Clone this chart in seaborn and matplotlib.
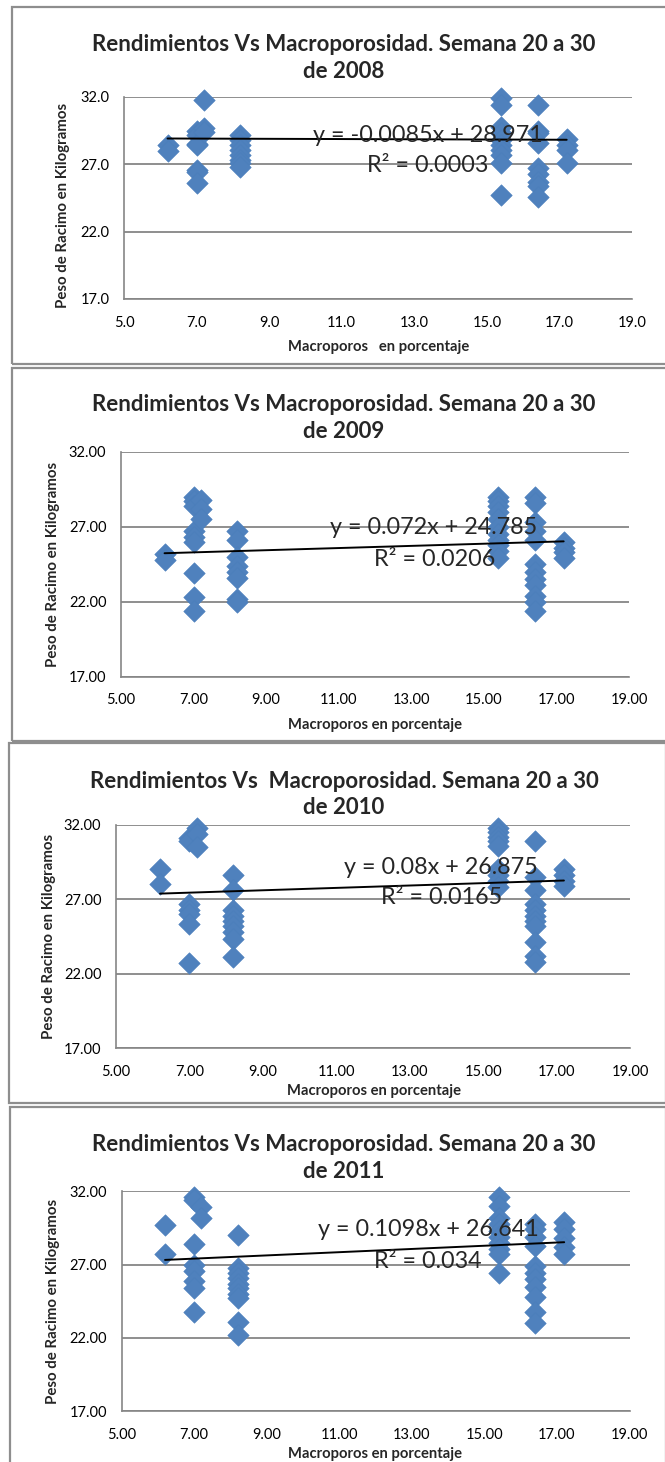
import matplotlib
matplotlib.use("Agg")
import matplotlib.pyplot as plt
from matplotlib.patches import Rectangle
from matplotlib.ticker import FormatStrFormatter, FixedLocator
import numpy as np
import pandas as pd
import seaborn as sns

# ---- data -------------------------------------------------------------
years = [2008, 2009, 2010, 2011]
macro_levels = [6.2, 7.0, 7.2, 8.2, 15.4, 16.4, 17.2]

peso_2008 = [
    [28.4, 28.0],
    [29.5, 29.2, 28.5, 28.4, 26.6, 26.4, 25.6],
    [31.8, 29.7, 29.4],
    [29.2, 28.8, 28.4, 28.1, 27.7, 27.3, 27.1, 26.8],
    [31.9, 31.4, 29.8, 29.3, 28.8, 28.4, 28.1, 27.7, 27.1, 24.7],
    [31.4, 29.5, 29.3, 28.6, 26.7, 26.3, 25.7, 25.4, 24.6],
    [28.9, 28.4, 28.1, 27.1],
]
peso_2009 = [
    [25.2, 24.8],
    [29.0, 28.7, 28.4, 26.7, 26.3, 26.0, 23.9, 22.3, 21.4],
    [28.8, 28.2, 27.5],
    [26.7, 26.1, 25.0, 24.4, 24.0, 23.6, 22.2, 22.0],
    [29.0, 28.7, 28.4, 28.0, 27.5, 27.0, 26.5, 26.1, 25.8, 25.4, 24.9],
    [29.0, 28.6, 27.3, 26.7, 26.1, 24.5, 24.0, 23.5, 23.1, 22.4, 22.0, 21.4],
    [26.0, 25.6, 25.3, 24.9],
]
peso_2010 = [
    [29.0, 28.0],
    [31.1, 30.9, 26.7, 26.3, 26.0, 25.3, 22.7],
    [31.8, 31.4, 30.5],
    [28.6, 27.6, 26.3, 25.9, 25.5, 25.2, 24.8, 24.3, 23.1],
    [31.8, 31.5, 31.2, 30.9, 30.6, 29.0, 28.6, 28.2, 27.8],
    [30.9, 28.5, 27.6, 26.7, 26.3, 25.9, 25.5, 25.2, 24.1, 23.2, 22.8],
    [29.0, 28.6, 28.2, 27.9],
]
peso_2011 = [
    [29.7, 27.7],
    [31.6, 31.4, 28.4, 27.0, 26.6, 25.9, 25.4, 23.8],
    [30.9, 30.2],
    [29.0, 26.8, 26.4, 26.1, 25.7, 25.4, 25.0, 24.7, 23.1, 22.2],
    [31.6, 31.0, 30.2, 29.8, 29.3, 28.9, 28.5, 28.1, 27.7, 26.4],
    [29.8, 29.4, 28.9, 28.3, 26.9, 26.4, 26.0, 25.5, 24.8, 23.8, 23.0],
    [29.9, 29.4, 28.8, 28.2, 27.7],
]
peso_by_year = [peso_2008, peso_2009, peso_2010, peso_2011]

trend_slope = [-0.0085, 0.072, 0.08, 0.1098]
trend_intercept = [28.971, 24.785, 26.875, 26.641]
trend_r2 = [0.0003, 0.0206, 0.0165, 0.034]

x_ticks = [5, 7, 9, 11, 13, 15, 17, 19]
y_ticks = [17, 22, 27, 32]

titles = [
    "Rendimientos Vs Macroporosidad. Semana 20 a 30\nde 2008",
    "Rendimientos Vs Macroporosidad. Semana 20 a 30\nde 2009",
    "Rendimientos Vs  Macroporosidad. Semana 20 a 30\nde 2010",
    "Rendimientos Vs Macroporosidad. Semana 20 a 30\nde 2011",
]
xlabels = ["Macroporos   en porcentaje", "Macroporos en porcentaje",
           "Macroporos en porcentaje", "Macroporos en porcentaje"]
ylabel = "Peso de Racimo en Kilogramos"
tick_formats = ["%.1f", "%.2f", "%.2f", "%.2f"]

# ---- layout (pixels) --------------------------------------------------
W, H = 665, 1462
# axes boxes: left, right, top, bottom
axes_px = [
    (124, 632, 97, 299),
    (121, 629, 451.7, 676.7),
    (116, 630, 824.7, 1048),
    (121.5, 629.5, 1191.3, 1411.3),
]
frames_px = [(12, 7, 666, 364), (12, 368, 666, 741),
             (9, 743, 666, 1103), (10, 1107, 666, 1470)]
title_px = [(344, 58), (344, 418), (344, 794.5), (344, 1158)]
xlabel_px = [(379, 347), (375, 725), (374, 1091), (375, 1454)]
ylabel_px = [(63, 205), (53, 564), (49, 936), (53, 1301)]
eq_px = [((428, 135), (428, 166)), ((434, 527), (435, 559)),
         ((441, 867), (442, 897)), ((428, 1230), (428, 1262))]

sns.set_style("white")
FONT = ["Lato", "DejaVu Sans"]
plt.rcParams["font.family"] = FONT

GRID = "#868686"
BLUE = "#4F81BD"

fig = plt.figure(figsize=(W / 100, H / 100), dpi=100)


def fx(px):
    return px / W


def fy(py):
    return 1 - py / H


for i, year in enumerate(years):
    # panel border
    x0, y0, x1, y1 = frames_px[i]
    fig.patches.append(Rectangle((fx(x0), fy(y1)), fx(x1 - x0), (y1 - y0) / H,
                                 transform=fig.transFigure, fill=False,
                                 edgecolor="#8E8E8E", linewidth=1.6, zorder=0))

    l, r, t, b = axes_px[i]
    ax = fig.add_axes([fx(l), fy(b), fx(r - l), (b - t) / H])

    rows = [(m, p) for m, vals in zip(macro_levels, peso_by_year[i]) for p in vals]
    df = pd.DataFrame(rows, columns=["macro", "peso"])

    sns.scatterplot(data=df, x="macro", y="peso", marker="D", s=120,
                    color=BLUE, edgecolor="#4A7EBB", linewidth=0.4,
                    ax=ax, zorder=3, legend=False, clip_on=False)

    xs = np.array([df["macro"].min(), df["macro"].max()])
    ax.plot(xs, trend_slope[i] * xs + trend_intercept[i], color="black",
            linewidth=1.4, zorder=4)

    ax.set_xlim(5, 19)
    ax.set_ylim(17, 32)
    ax.xaxis.set_major_locator(FixedLocator(x_ticks))
    ax.yaxis.set_major_locator(FixedLocator(y_ticks))
    ax.xaxis.set_major_formatter(FormatStrFormatter(tick_formats[i]))
    ax.yaxis.set_major_formatter(FormatStrFormatter(tick_formats[i]))
    ax.yaxis.grid(True, color=GRID, linewidth=1.3)
    ax.xaxis.grid(False)
    ax.set_axisbelow(True)
    for side in ["top", "right"]:
        ax.spines[side].set_visible(False)
    for side in ["left", "bottom"]:
        ax.spines[side].set_color(GRID)
        ax.spines[side].set_linewidth(1.2)
    ax.tick_params(axis="both", direction="out", length=4, width=1,
                   color=GRID, labelsize=10.5, labelcolor="black")
    ax.tick_params(axis="x", pad=8)
    ax.tick_params(axis="y", pad=6.5)
    ax.set_xlabel("")
    ax.set_ylabel("")
    ax.patch.set_alpha(0)

    fig.text(fx(title_px[i][0]), fy(title_px[i][1]), titles[i], ha="center",
             va="center", fontsize=16, fontweight="bold", linespacing=1.3)
    fig.text(fx(xlabel_px[i][0]), fy(xlabel_px[i][1]), xlabels[i], ha="center",
             va="center", fontsize=10.6, fontweight="bold")
    fig.text(fx(ylabel_px[i][0]), fy(ylabel_px[i][1]), ylabel, ha="center",
             va="center", rotation=90, fontsize=10.8, fontweight="bold")

    (e1x, e1y), (e2x, e2y) = eq_px[i]
    fig.text(fx(e1x), fy(e1y),
             f"y = {trend_slope[i]:g}x + {trend_intercept[i]:g}",
             ha="center", va="center", fontsize=16.8, zorder=6)
    fig.text(fx(e2x), fy(e2y), f"R² = {trend_r2[i]:g}",
             ha="center", va="center", fontsize=16.8, zorder=6)

fig.savefig("out.png", dpi=100)
